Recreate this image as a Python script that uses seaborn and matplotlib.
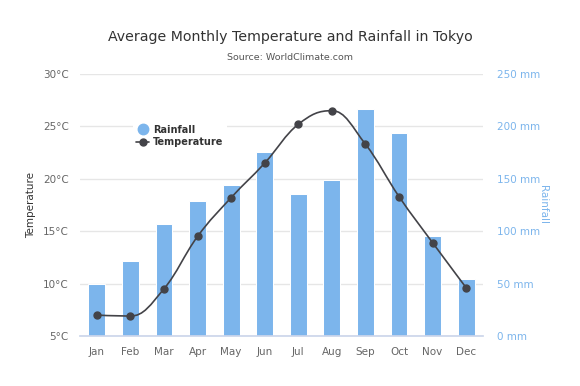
import matplotlib
matplotlib.use('Agg')
import matplotlib.pyplot as plt
import seaborn as sns
import pandas as pd
from matplotlib.path import Path
from matplotlib.patches import PathPatch
from matplotlib.lines import Line2D

months = ['Jan', 'Feb', 'Mar', 'Apr', 'May', 'Jun',
          'Jul', 'Aug', 'Sep', 'Oct', 'Nov', 'Dec']
rainfall = [49.9, 71.5, 106.4, 129.2, 144.0, 176.0, 135.6, 148.5, 216.4, 194.1, 95.6, 54.4]
temperature = [7.0, 6.9, 9.5, 14.5, 18.2, 21.5, 25.2, 26.5, 23.3, 18.3, 13.9, 9.6]
temp_ticks = [5, 10, 15, 20, 25, 30]
rain_ticks = [0, 50, 100, 150, 200, 250]

BAR = '#7cb5ec'
LINE = '#434348'
LABEL = '#666666'


def spline_path(xs, ys, smoothing=1.5):
    """Кривая Безье через точки (как spline в Highcharts)."""
    n = len(xs)
    left, right = [], []
    for i in range(n):
        x, y = xs[i], ys[i]
        if i == 0 or i == n - 1:
            left.append((x, y))
            right.append((x, y))
            continue
        lx, ly = xs[i - 1], ys[i - 1]
        nx, ny = xs[i + 1], ys[i + 1]
        d = smoothing + 1
        lcx = (smoothing * x + lx) / d
        lcy = (smoothing * y + ly) / d
        rcx = (smoothing * x + nx) / d
        rcy = (smoothing * y + ny) / d
        if rcx != lcx:
            corr = (rcy - lcy) * (rcx - x) / (rcx - lcx) + y - rcy
            lcy += corr
            rcy += corr
        if lcy > ly and lcy > y:
            lcy = max(ly, y)
            rcy = 2 * y - lcy
        elif lcy < ly and lcy < y:
            lcy = min(ly, y)
            rcy = 2 * y - lcy
        if rcy > ny and rcy > y:
            rcy = max(ny, y)
            lcy = 2 * y - rcy
        elif rcy < ny and rcy < y:
            rcy = min(ny, y)
            lcy = 2 * y - rcy
        left.append((lcx, lcy))
        right.append((rcx, rcy))
    verts = [(xs[0], ys[0])]
    codes = [Path.MOVETO]
    for i in range(1, n):
        verts += [right[i - 1], left[i], (xs[i], ys[i])]
        codes += [Path.CURVE4] * 3
    return Path(verts, codes)


df = pd.DataFrame({'month': months, 'rainfall': rainfall, 'temperature': temperature})

sns.set_theme(style='white')
plt.rcParams['font.family'] = ['DejaVu Sans']

fig = plt.figure(figsize=(5.8, 3.86), dpi=100)
ax = fig.add_axes([80 / 580, 1 - 336 / 386, 403 / 580, 262 / 386])
ax2 = ax.twinx()

# Столбцы осадков на правой оси (под линией), сетка тоже здесь
sns.barplot(data=df, x='month', y='rainfall', ax=ax2, color=BAR, width=0.5,
            saturation=1, edgecolor='white', linewidth=0.75, zorder=2)
ax2.set_ylim(0, 250)
ax2.set_yticks(rain_ticks)
ax2.set_yticklabels([f'{t} mm' for t in rain_ticks], color=BAR, fontsize=7.5)
ax2.set_ylabel('Rainfall', color=BAR, fontsize=7.5, rotation=270, labelpad=6)
ax2.set_xlabel('')
ax2.tick_params(axis='y', length=0, pad=10)
ax2.set_axisbelow(True)
ax2.grid(axis='y', color='#e6e6e6', lw=1)

# Температура на левой оси, поверх столбцов
ax.set_zorder(ax2.get_zorder() + 1)
ax.patch.set_visible(False)
x_pos = list(range(len(months)))
ax.add_patch(PathPatch(spline_path(x_pos, temperature), facecolor='none',
                       edgecolor=LINE, lw=1.2, zorder=3))
ax.plot(x_pos, temperature, linestyle='none', marker='o', color=LINE,
        markersize=5, zorder=4)
ax.set_xlim(-0.5, len(months) - 0.5)
ax.set_ylim(5, 30)
ax.set_yticks(temp_ticks)
ax.set_yticklabels([f'{t}°C' for t in temp_ticks], color=LABEL, fontsize=7.5)
ax.set_xticks(x_pos)
ax.set_xticklabels(months, color=LABEL, fontsize=7.5)
ax.set_ylabel('Temperature', color='#333333', fontsize=7.5, labelpad=5)
ax.tick_params(axis='both', length=0, pad=8)
ax.grid(False)

for a in (ax, ax2):
    for s in a.spines.values():
        s.set_visible(False)
ax.spines['bottom'].set_visible(True)
ax.spines['bottom'].set_color('#ccd6eb')

fig.text(0.5, 1 - 37 / 386, 'Average Monthly Temperature and Rainfall in Tokyo',
         ha='center', va='center', fontsize=10.2, color='#333333')
fig.text(0.5, 1 - 57 / 386, 'Source: WorldClimate.com',
         ha='center', va='center', fontsize=6.8, color='#555555')

handles = [Line2D([], [], linestyle='none', marker='o', color=BAR, markersize=7.5),
           Line2D([], [], marker='o', color=LINE, lw=1.2, markersize=5)]
leg = fig.legend(handles, ['Rainfall', 'Temperature'], loc='upper left',
                 bbox_to_anchor=(128 / 580, 1 - 117 / 386), frameon=True,
                 prop={'weight': 'bold', 'size': 7}, handlelength=1.4,
                 handletextpad=0.4, labelspacing=0.25, borderpad=0.3)
leg.get_frame().set_facecolor('white')
leg.get_frame().set_edgecolor('none')
leg.get_frame().set_alpha(1)
for t in leg.get_texts():
    t.set_color('#333333')

fig.savefig('out.png', dpi=100)
